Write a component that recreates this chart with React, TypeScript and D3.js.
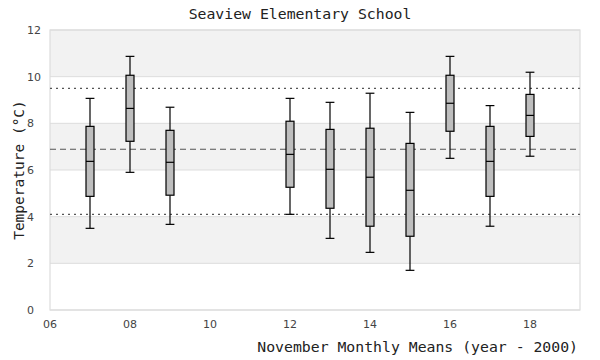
import React from "react";
import * as d3 from "d3";

const years = [7, 8, 9, 12, 13, 14, 15, 16, 17, 18];
const whiskerHigh = [9.07, 10.87, 8.69, 9.07, 8.9, 9.29, 8.47, 10.87, 8.76, 10.19];
const q3 = [7.87, 10.06, 7.7, 8.09, 7.74, 7.79, 7.14, 10.06, 7.87, 9.24];
const medians = [6.37, 8.64, 6.33, 6.67, 6.03, 5.69, 5.13, 8.86, 6.37, 8.34];
const q1 = [4.87, 7.23, 4.92, 5.26, 4.36, 3.59, 3.16, 7.66, 4.87, 7.44];
const whiskerLow = [3.5, 5.9, 3.67, 4.1, 3.07, 2.47, 1.7, 6.5, 3.59, 6.59];

const xTicks = [6, 8, 10, 12, 14, 16, 18];
const yTicks = [0, 2, 4, 6, 8, 10, 12];
const meanLine = 6.89;
const upperLine = 9.5;
const lowerLine = 4.1;

const W = 600;
const H = 360;
const M = { left: 50, right: 20, top: 30, bottom: 50 };

export default function App() {
  const x = d3.scaleLinear().domain([6, 19.25]).range([M.left, W - M.right]);
  const y = d3.scaleLinear().domain([0, 12]).range([H - M.bottom, M.top]);
  const boxW = x(6.2) - x(6);
  const capW = x(6.22) - x(6);
  const mono = "'DejaVu Sans Mono', monospace";
  const sans = "'DejaVu Sans', sans-serif";
  const bands = d3.range(0, 12, 2);

  return (
    <svg width={W} height={H} style={{ position: "absolute", left: 0, top: 0 }}>
      <rect x={0} y={0} width={W} height={H} fill="#fff" />
      {bands.map((b) => (
        <rect
          key={b}
          x={x(6)}
          y={y(b + 2)}
          width={x(19.25) - x(6)}
          height={y(b) - y(b + 2)}
          fill={(b / 2) % 2 === 1 ? "#f2f2f2" : "#ffffff"}
        />
      ))}
      {yTicks.map((t) => (
        <line key={t} x1={x(6)} x2={x(19.25)} y1={y(t)} y2={y(t)} stroke="#dddddd" strokeWidth={1} />
      ))}
      <rect
        x={x(6)}
        y={y(12)}
        width={x(19.25) - x(6)}
        height={y(0) - y(12)}
        fill="none"
        stroke="#dddddd"
        strokeWidth={1.2}
      />
      <line x1={x(6)} x2={x(19.25)} y1={y(upperLine)} y2={y(upperLine)} stroke="#555" strokeWidth={1.2} strokeDasharray="2,4" />
      <line x1={x(6)} x2={x(19.25)} y1={y(lowerLine)} y2={y(lowerLine)} stroke="#555" strokeWidth={1.2} strokeDasharray="2,4" />
      <line x1={x(6)} x2={x(19.25)} y1={y(meanLine)} y2={y(meanLine)} stroke="#555" strokeWidth={1.2} strokeDasharray="6,4" />
      {years.map((yr, i) => {
        const cx = x(yr);
        return (
          <g key={yr}>
            <line x1={cx} x2={cx} y1={y(whiskerHigh[i])} y2={y(q3[i])} stroke="#000" strokeWidth={1.2} />
            <line x1={cx} x2={cx} y1={y(q1[i])} y2={y(whiskerLow[i])} stroke="#000" strokeWidth={1.2} />
            <line x1={cx - capW / 2} x2={cx + capW / 2} y1={y(whiskerHigh[i])} y2={y(whiskerHigh[i])} stroke="#000" strokeWidth={1.2} />
            <line x1={cx - capW / 2} x2={cx + capW / 2} y1={y(whiskerLow[i])} y2={y(whiskerLow[i])} stroke="#000" strokeWidth={1.2} />
            <rect
              x={cx - boxW / 2}
              y={y(q3[i])}
              width={boxW}
              height={y(q1[i]) - y(q3[i])}
              fill="#bebebe"
              stroke="#000"
              strokeWidth={1.2}
            />
            <line x1={cx - boxW / 2} x2={cx + boxW / 2} y1={y(medians[i])} y2={y(medians[i])} stroke="#000" strokeWidth={1.2} />
          </g>
        );
      })}
      {yTicks.map((t) => (
        <text key={t} x={27} y={y(t)} dy="0.35em" fontFamily={sans} fontSize={11} fill="#444">
          {String(t)}
        </text>
      ))}
      {xTicks.map((t) => (
        <text key={t} x={x(t)} y={328} textAnchor="middle" fontFamily={sans} fontSize={11} fill="#444">
          {d3.format("02d")(t)}
        </text>
      ))}
      <text x={W / 2} y={19} textAnchor="middle" fontFamily={mono} fontSize={14.8} fill="#222">
        Seaview Elementary School
      </text>
      <text x={578} y={352} textAnchor="end" fontFamily={mono} fontSize={14.8} fill="#222">
        November Monthly Means (year - 2000)
      </text>
      <text
        transform={`translate(24, ${(y(0) + y(12)) / 2}) rotate(-90)`}
        textAnchor="middle"
        fontFamily={mono}
        fontSize={14.5}
        fill="#222"
      >
        Temperature (°C)
      </text>
    </svg>
  );
}
